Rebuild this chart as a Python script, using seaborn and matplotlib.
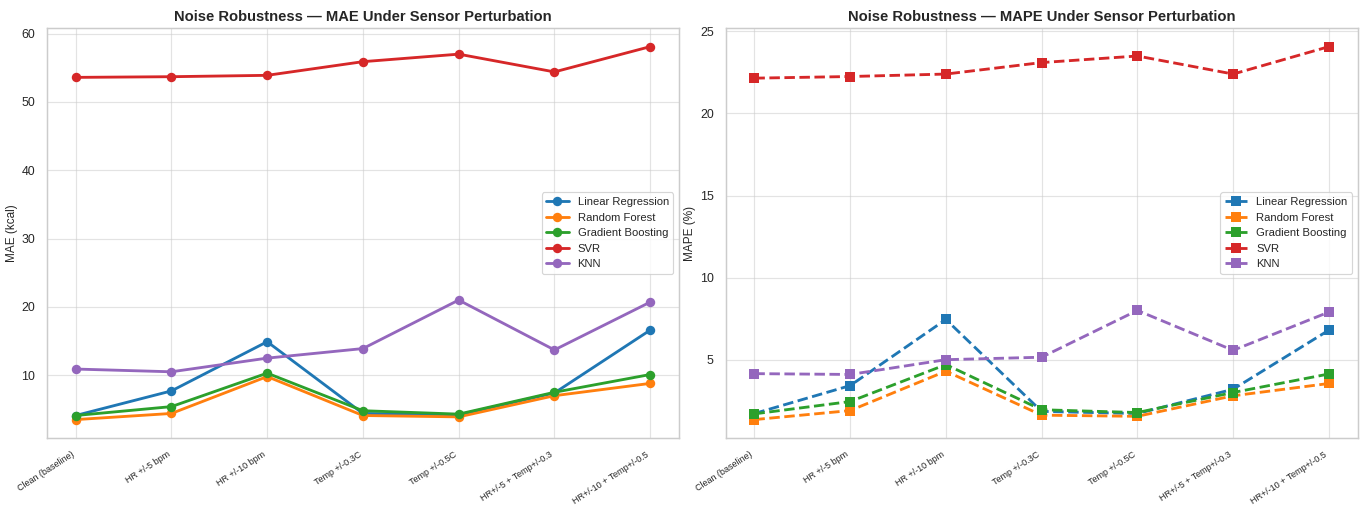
import matplotlib
matplotlib.use("Agg")
import matplotlib.pyplot as plt
import seaborn as sns
import pandas as pd

sns.set_theme(style="whitegrid")
plt.rcParams["font.family"] = ["Liberation Sans", "DejaVu Sans"]

conditions = [
    "Clean (baseline)", "HR +/-5 bpm", "HR +/-10 bpm", "Temp +/-0.3C",
    "Temp +/-0.5C", "HR+/-5 + Temp+/-0.3", "HR+/-10 + Temp+/-0.5",
]
models = ["Linear Regression", "Random Forest", "Gradient Boosting", "SVR", "KNN"]

mae_lr = [4.1, 7.7, 14.9, 4.4, 4.2, 7.4, 16.6]
mae_rf = [3.5, 4.4, 9.8, 4.1, 3.9, 7.0, 8.8]
mae_gb = [4.1, 5.4, 10.3, 4.8, 4.3, 7.5, 10.1]
mae_svr = [53.6, 53.7, 53.9, 55.9, 57.0, 54.4, 58.1]
mae_knn = [10.9, 10.5, 12.5, 13.9, 21.0, 13.7, 20.7]

mape_lr = [1.72, 3.42, 7.45, 1.85, 1.72, 3.2, 6.8]
mape_rf = [1.35, 1.9, 4.3, 1.62, 1.55, 2.8, 3.55]
mape_gb = [1.7, 2.45, 4.7, 1.95, 1.78, 3.0, 4.13]
mape_svr = [22.15, 22.25, 22.4, 23.1, 23.5, 22.4, 24.07]
mape_knn = [4.15, 4.1, 5.0, 5.15, 8.0, 5.57, 7.9]

palette = sns.color_palette("tab10", 5)

mae = {"Linear Regression": mae_lr, "Random Forest": mae_rf,
       "Gradient Boosting": mae_gb, "SVR": mae_svr, "KNN": mae_knn}
mape = {"Linear Regression": mape_lr, "Random Forest": mape_rf,
        "Gradient Boosting": mape_gb, "SVR": mape_svr, "KNN": mape_knn}

fig, axes = plt.subplots(1, 2, figsize=(1361 / 85, 509 / 85), dpi=85)
fig.subplots_adjust(left=0.0345, right=0.9975, top=0.945, bottom=0.139, wspace=0.074)

panels = [
    (axes[0], mae, "o", "-", "MAE (kcal)", "Noise Robustness \u2014 MAE Under Sensor Perturbation"),
    (axes[1], mape, "s", "--", "MAPE (%)", "Noise Robustness \u2014 MAPE Under Sensor Perturbation"),
]

for ax, table, mk, ls, ylabel, title in panels:
    for color, model in zip(palette, models):
        df = pd.DataFrame({"condition": conditions, "value": table[model]})
        sns.lineplot(data=df, x="condition", y="value", ax=ax, color=color,
                     marker=mk, markersize=8, linewidth=2.4, linestyle=ls,
                     markeredgewidth=0, label=model, legend=False, sort=False)
    ax.set_title(title, fontsize=12.5, fontweight="bold", pad=6)
    ax.set_ylabel(ylabel, fontsize=10, labelpad=3)
    ax.set_xlabel("")
    ax.tick_params(axis="y", labelsize=10.5, pad=4)
    ax.tick_params(axis="x", pad=4)
    plt.setp(ax.get_xticklabels(), rotation=33, ha="right", fontsize=7.6)
    ax.grid(True, alpha=0.55)
    for s in ax.spines.values():
        s.set_color("#cccccc")
    ax.legend(loc="center right", fontsize=9.5, frameon=True)

fig.savefig("out.png", dpi=85)
